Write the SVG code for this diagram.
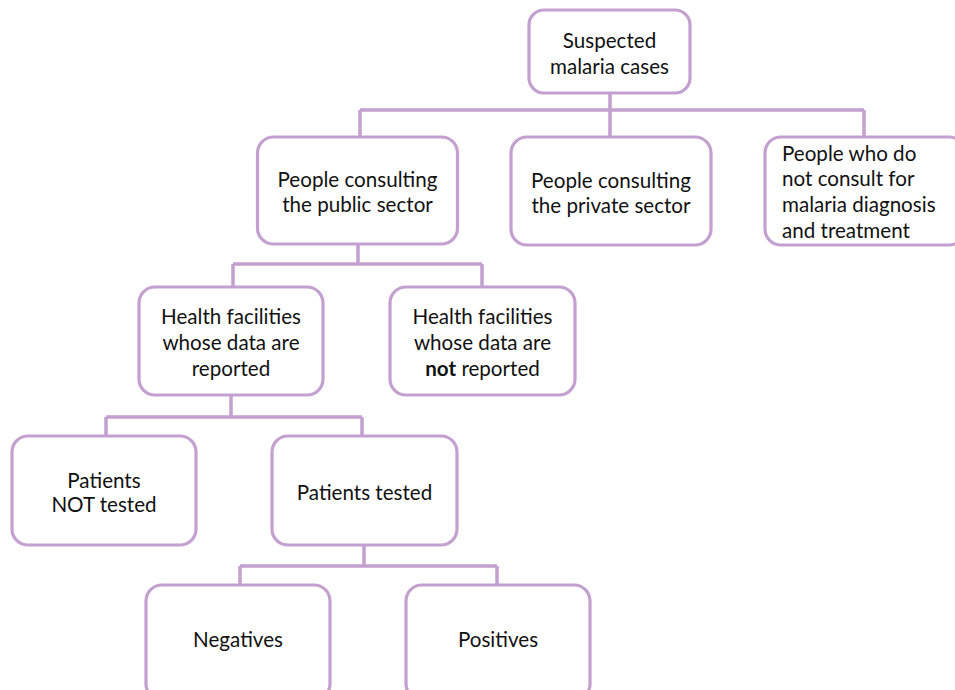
<svg xmlns="http://www.w3.org/2000/svg" width="955" height="690" viewBox="0 0 955 690">
<style>
.box{fill:#fff;stroke:#C3A0CF;stroke-width:3.2}
.conn{fill:none;stroke:#C3A0CF;stroke-width:3.5}
text{font-family:Lato,"Open Sans","Liberation Sans",sans-serif;font-size:20.6px;fill:#111}
.c{text-anchor:middle}
</style>
<rect width="955" height="690" fill="#fff"/>
<g id="connectors">
<path class="conn" d="M610,93V110 M360,110H864 M360,110V137 M610,110V137 M864,110V137"/>
<path class="conn" d="M358,244V264 M233,264H482 M233,264V287 M482,264V287"/>
<path class="conn" d="M231,395V417 M106,417H362 M106,417V436 M362,417V436"/>
<path class="conn" d="M364,545V566 M240,566H497 M240,566V585 M497,566V585"/>
</g>
<g id="root"><rect class="box" x="529" y="10" width="161" height="83" rx="15"/>
<text class="c" x="609.5" y="48">Suspected</text><text class="c" x="609.5" y="74">malaria cases</text></g>
<g id="public"><rect class="box" x="257.5" y="137" width="200" height="107" rx="16"/>
<text class="c" x="357.5" y="187">People consulting</text><text class="c" x="357.5" y="212">the public sector</text></g>
<g id="private"><rect class="box" x="511" y="137" width="200" height="108" rx="16"/>
<text class="c" x="611" y="188">People consulting</text><text class="c" x="611" y="213">the private sector</text></g>
<g id="noconsult"><rect class="box" x="765" y="137" width="200" height="108" rx="16"/>
<text x="782" y="161">People who do</text><text x="782" y="186">not consult for</text><text x="782" y="212">malaria diagnosis</text><text x="782" y="238">and treatment</text></g>
<g id="reported"><rect class="box" x="139" y="287" width="184" height="108" rx="16"/>
<text class="c" x="231" y="324">Health facilities</text><text class="c" x="231" y="350">whose data are</text><text class="c" x="231" y="376">reported</text></g>
<g id="notreported"><rect class="box" x="390" y="287" width="185" height="108" rx="16"/>
<text class="c" x="482.5" y="324">Health facilities</text><text class="c" x="482.5" y="350">whose data are</text><text class="c" x="482.5" y="376"><tspan font-weight="bold">not</tspan> reported</text></g>
<g id="nottested"><rect class="box" x="12" y="436" width="184" height="109" rx="16"/>
<text class="c" x="104" y="488">Patients</text><text class="c" x="104" y="512">NOT tested</text></g>
<g id="tested"><rect class="box" x="272" y="436" width="185" height="109" rx="16"/>
<text class="c" x="364.5" y="500">Patients tested</text></g>
<g id="negatives"><rect class="box" x="146" y="585" width="184" height="115" rx="16"/>
<text class="c" x="238" y="647">Negatives</text></g>
<g id="positives"><rect class="box" x="406" y="585" width="184" height="115" rx="16"/>
<text class="c" x="498" y="647">Positives</text></g>
</svg>
